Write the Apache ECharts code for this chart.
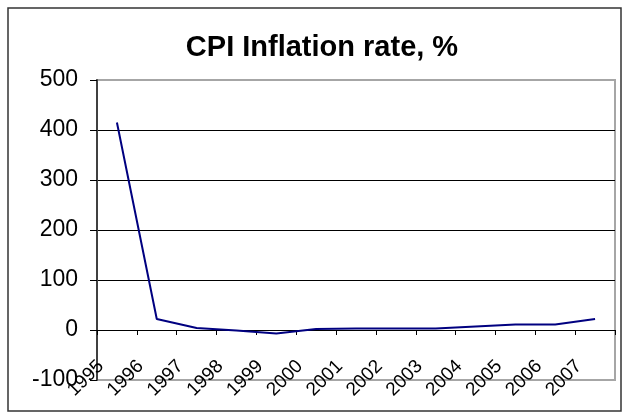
<!DOCTYPE html>
<html>
<head>
<meta charset="utf-8">
<script src="https://cdn.jsdelivr.net/npm/echarts@6/dist/echarts.min.js"></script>
<style>
  html, body { margin: 0; padding: 0; background: #fff; }
  #chart { width: 624px; height: 418px; }
</style>
</head>
<body>
<div id="chart"></div>
<script>
// Annual CPI inflation, percent
const years = ['1995', '1996', '1997', '1998', '1999', '2000', '2001',
               '2002', '2003', '2004', '2005', '2006', '2007'];
const inflation = [415, 22, 4, -1, -7, 2, 3, 3, 3, 7, 11, 11, 22];
const yTicks = { min: -100, max: 500, step: 100 };

const font = 'Arial, "Liberation Sans", sans-serif';
const chart = echarts.init(document.getElementById('chart'));

chart.setOption({
  animation: false,
  backgroundColor: '#ffffff',
  title: {
    text: 'CPI Inflation rate, %',
    left: 317,
    textAlign: 'center',
    top: 28,
    textStyle: { fontFamily: font, fontSize: 29, fontWeight: 'bold', color: '#000' }
  },
  graphic: [{
    type: 'rect',
    shape: { x: 8, y: 8, width: 613, height: 403 },
    style: { fill: 'none', stroke: '#333', lineWidth: 1.5 },
    silent: true
  }],
  grid: {
    left: 97, right: 9, top: 80, bottom: 38,
    containLabel: false,
    outerBoundsMode: 'none',
    show: true,
    borderColor: '#a6a6a6',
    borderWidth: 2,
    backgroundColor: '#fff'
  },
  xAxis: {
    type: 'category',
    data: years,
    boundaryGap: true,
    axisLine: { onZero: true, lineStyle: { color: '#000', width: 1 } },
    axisTick: { show: true, length: 5, lineStyle: { color: '#000', width: 1 } },
    axisLabel: {
      rotate: 45,
      interval: 0,
      margin: -33,
      padding: [0, 23, 0, 0],
      fontFamily: font,
      fontSize: 19,
      color: '#000'
    },
    splitLine: { show: false }
  },
  yAxis: {
    type: 'value',
    min: yTicks.min,
    max: yTicks.max,
    interval: yTicks.step,
    axisLine: { show: true, lineStyle: { color: '#404040', width: 2 } },
    axisTick: { show: true, length: 7, lineStyle: { color: '#000', width: 1 } },
    axisLabel: { margin: 19, fontFamily: font, fontSize: 23, color: '#000' },
    splitLine: {
      show: true,
      showMinLine: false,
      showMaxLine: false,
      lineStyle: { color: '#000', width: 1 }
    }
  },
  series: [{
    type: 'line',
    data: inflation,
    symbol: 'none',
    lineStyle: { color: '#000080', width: 2 }
  }]
});
</script>
</body>
</html>
